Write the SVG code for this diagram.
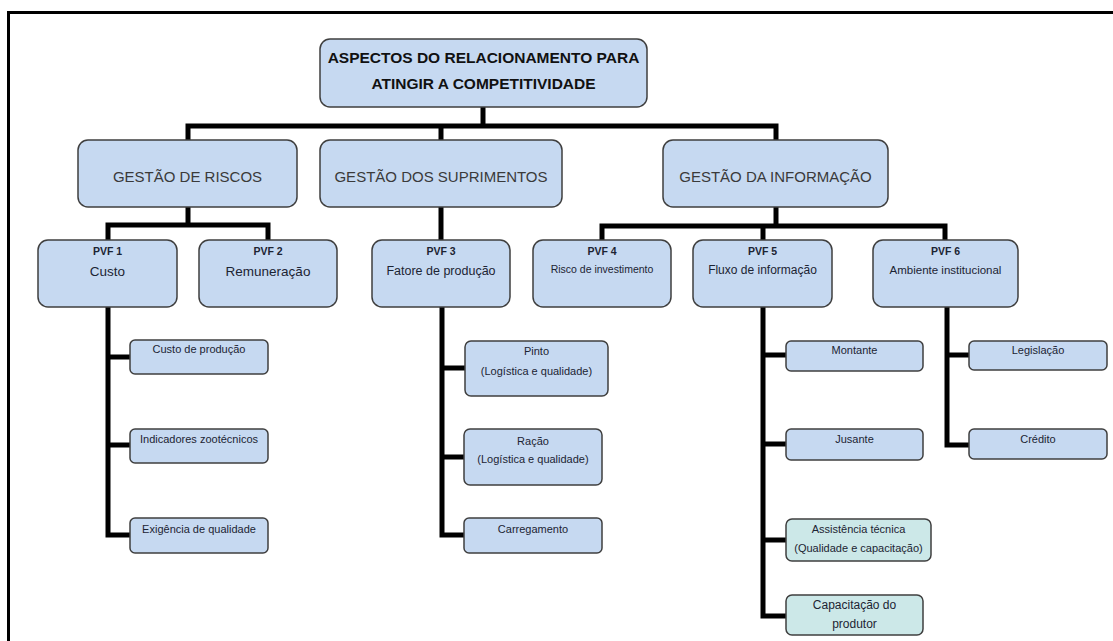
<svg xmlns="http://www.w3.org/2000/svg" width="1113" height="641" viewBox="0 0 1113 641">
  <style>
    .box { fill: #c6d9f1; stroke: #3f3f3f; stroke-width: 1.5; }
    .teal { fill: #cce8e8; stroke: #3f3f3f; stroke-width: 1.5; }
    .wire { fill: none; stroke: #000; stroke-width: 5; stroke-linejoin: miter; }
    text { font-family: "Liberation Sans", Arial, sans-serif; text-anchor: middle; fill: #1c2433; }
    .title { font-size: 15.5px; font-weight: bold; fill: #111; }
    .lvl2 { font-size: 15px; fill: #3a3a3a; }
    .pvf { font-size: 10.5px; font-weight: bold; }
    .sub { font-size: 13.5px; }
    .leaf { font-size: 11px; }
  </style>

  <!-- frame -->
  <path d="M8.5 641 V12.5 H1113" fill="none" stroke="#000" stroke-width="3"/>

  <!-- connectors -->
  <g id="connectors">
    <path class="wire" d="M483 107 V126"/>
    <path class="wire" d="M188 140 V126 H776 V140"/>
    <path class="wire" d="M441 126 V140"/>
    <path class="wire" d="M188 207 V225"/>
    <path class="wire" d="M108 240 V225 H268 V240"/>
    <path class="wire" d="M441 207 V240"/>
    <path class="wire" d="M776 207 V226"/>
    <path class="wire" d="M602 240 V226 H945 V240"/>
    <path class="wire" d="M763 226 V240"/>
    <!-- PVF 1 leaves -->
    <path class="wire" d="M108 307 V535 H130"/>
    <path class="wire" d="M108 357 H130 M108 445 H130"/>
    <!-- PVF 3 leaves -->
    <path class="wire" d="M442 307 V535 H464"/>
    <path class="wire" d="M442 368 H465 M442 457 H464"/>
    <!-- PVF 5 leaves -->
    <path class="wire" d="M763 307 V616 H786"/>
    <path class="wire" d="M763 355 H786 M763 444 H786 M763 540 H786"/>
    <!-- PVF 6 leaves -->
    <path class="wire" d="M947 307 V445 H969"/>
    <path class="wire" d="M947 355 H969"/>
  </g>

  <g id="root">
    <rect class="box" x="320" y="39" width="327" height="68" rx="10"/>
    <text class="title" x="483.5" y="63">ASPECTOS DO RELACIONAMENTO PARA</text>
    <text class="title" x="483.5" y="89">ATINGIR A COMPETITIVIDADE</text>
  </g>

  <g id="gestao-riscos">
    <rect class="box" x="78" y="140" width="219" height="67" rx="10"/>
    <text class="lvl2" x="187.5" y="182">GESTÃO DE RISCOS</text>
  </g>
  <g id="gestao-suprimentos">
    <rect class="box" x="320" y="140" width="242" height="67" rx="10"/>
    <text class="lvl2" x="441" y="182">GESTÃO DOS SUPRIMENTOS</text>
  </g>
  <g id="gestao-informacao">
    <rect class="box" x="663" y="140" width="225" height="67" rx="10"/>
    <text class="lvl2" x="775.5" y="182">GESTÃO DA INFORMAÇÃO</text>
  </g>

  <g id="pvf1">
    <rect class="box" x="38" y="240" width="139" height="67" rx="10"/>
    <text class="pvf" x="107.5" y="255">PVF 1</text>
    <text class="sub" x="107.5" y="276">Custo</text>
  </g>
  <g id="pvf2">
    <rect class="box" x="199" y="240" width="138" height="67" rx="10"/>
    <text class="pvf" x="268" y="255">PVF 2</text>
    <text class="sub" x="268" y="276">Remuneração</text>
  </g>
  <g id="pvf3">
    <rect class="box" x="372" y="240" width="138" height="67" rx="10"/>
    <text class="pvf" x="441" y="255">PVF 3</text>
    <text class="sub" x="441" y="275" style="font-size:12.5px">Fatore de produção</text>
  </g>
  <g id="pvf4">
    <rect class="box" x="533" y="240" width="138" height="67" rx="10"/>
    <text class="pvf" x="602" y="255">PVF 4</text>
    <text class="leaf" x="602" y="273" style="font-size:10.5px">Risco de investimento</text>
  </g>
  <g id="pvf5">
    <rect class="box" x="693" y="240" width="139" height="67" rx="10"/>
    <text class="pvf" x="762.5" y="255">PVF 5</text>
    <text class="sub" x="762.5" y="274" style="font-size:12px">Fluxo de informação</text>
  </g>
  <g id="pvf6">
    <rect class="box" x="873" y="240" width="145" height="67" rx="10"/>
    <text class="pvf" x="945.5" y="255">PVF 6</text>
    <text class="sub" x="945.5" y="274" style="font-size:11.5px">Ambiente institucional</text>
  </g>

  <!-- PVF 1 leaves -->
  <g id="custo-producao">
    <rect class="box" x="130" y="340" width="138" height="34" rx="5"/>
    <text class="leaf" x="199" y="353">Custo de produção</text>
  </g>
  <g id="indicadores">
    <rect class="box" x="130" y="429" width="138" height="34" rx="5"/>
    <text class="leaf" x="199" y="443">Indicadores zootécnicos</text>
  </g>
  <g id="exigencia">
    <rect class="box" x="130" y="518" width="138" height="35" rx="5"/>
    <text class="leaf" x="199" y="533">Exigência de qualidade</text>
  </g>

  <!-- PVF 3 leaves -->
  <g id="pinto">
    <rect class="box" x="465" y="341" width="143" height="55" rx="6"/>
    <text class="leaf" x="536.5" y="355">Pinto</text>
    <text class="leaf" x="536.5" y="375">(Logística e qualidade)</text>
  </g>
  <g id="racao">
    <rect class="box" x="464" y="429" width="138" height="56" rx="6"/>
    <text class="leaf" x="533" y="445">Ração</text>
    <text class="leaf" x="533" y="463">(Logística e qualidade)</text>
  </g>
  <g id="carregamento">
    <rect class="box" x="464" y="518" width="138" height="35" rx="5"/>
    <text class="leaf" x="533" y="533">Carregamento</text>
  </g>

  <!-- PVF 5 leaves -->
  <g id="montante">
    <rect class="box" x="786" y="341" width="137" height="30" rx="5"/>
    <text class="leaf" x="854.5" y="354">Montante</text>
  </g>
  <g id="jusante">
    <rect class="box" x="786" y="429" width="137" height="31" rx="5"/>
    <text class="leaf" x="854.5" y="443">Jusante</text>
  </g>
  <g id="assistencia">
    <rect class="teal" x="786" y="519" width="145" height="42" rx="6"/>
    <text class="leaf" x="858.5" y="533">Assistência técnica</text>
    <text class="leaf" x="858.5" y="552">(Qualidade e capacitação)</text>
  </g>
  <g id="capacitacao">
    <rect class="teal" x="786" y="595" width="137" height="40" rx="6"/>
    <text class="leaf" x="854.5" y="609" style="font-size:12px">Capacitação do</text>
    <text class="leaf" x="854.5" y="628" style="font-size:12px">produtor</text>
  </g>

  <!-- PVF 6 leaves -->
  <g id="legislacao">
    <rect class="box" x="969" y="341" width="138" height="29" rx="5"/>
    <text class="leaf" x="1038" y="354">Legislação</text>
  </g>
  <g id="credito">
    <rect class="box" x="969" y="429" width="138" height="30" rx="5"/>
    <text class="leaf" x="1038" y="443">Crédito</text>
  </g>
</svg>
